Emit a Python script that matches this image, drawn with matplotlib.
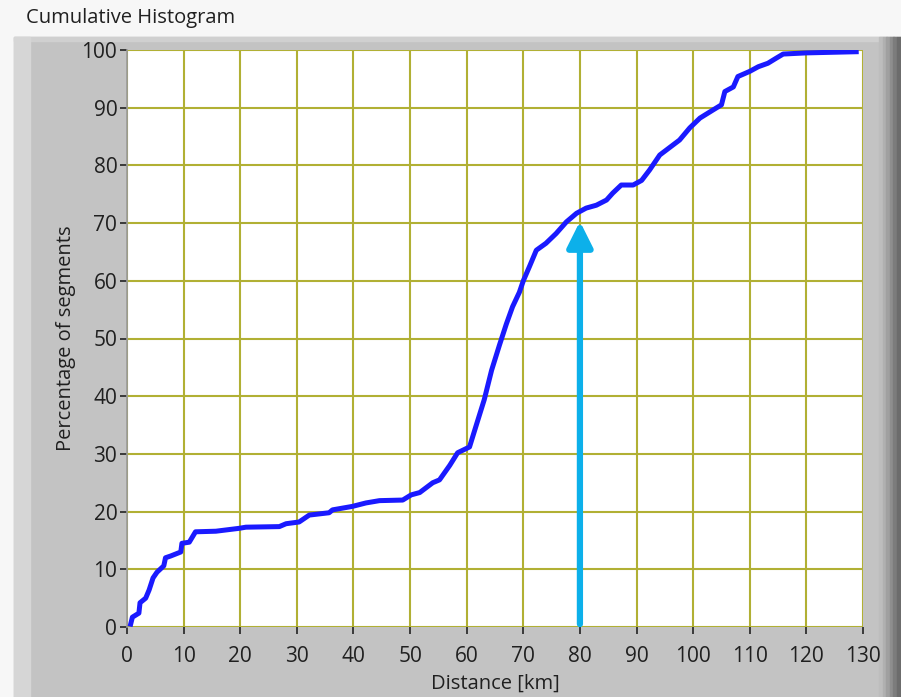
import matplotlib.pyplot as plt
import numpy as np
from matplotlib.patches import Rectangle

plt.rcParams['font.family'] = ['Open Sans', 'DejaVu Sans']

# curve
dist = [0.65, 0.95, 2.1, 2.3, 3.3, 3.9, 4.6, 5.3, 6.5, 6.8, 7.7, 9.5, 9.7, 11, 12.1,
        15.7, 19.8, 21, 26.9, 28.1, 30.4, 32.2, 35.7, 36.3, 39.8, 42.2, 44.6, 48.7,
        50.2, 51.7, 54, 55.2, 57, 58.4, 60.5, 61.7, 63.1, 64.4, 65.8, 67, 68.1, 69.3,
        70.0, 71.1, 72.3, 74, 75.8, 77.6, 79.4, 81.1, 82.9, 84.7, 85.8, 87.3, 89.4,
        90.9, 92.3, 94.1, 97.6, 99.4, 101.2, 103.5, 105, 105.6, 107.1, 107.9, 110,
        111.5, 113.2, 114.7, 115.9, 120, 128.8]
pct = [0.5, 1.7, 2.4, 4.2, 5, 6.4, 8.5, 9.5, 10.6, 12, 12.3, 13, 14.5, 14.7, 16.5,
       16.6, 17.1, 17.3, 17.4, 17.9, 18.2, 19.4, 19.8, 20.3, 20.9, 21.5, 21.9, 22,
       22.9, 23.3, 25, 25.5, 28, 30.2, 31.2, 35, 39.4, 44.5, 48.9, 52.5, 55.5, 58,
       60, 62.5, 65.3, 66.5, 68.2, 70.2, 71.7, 72.6, 73.1, 74, 75.2, 76.6, 76.6,
       77.4, 79.2, 81.8, 84.4, 86.5, 88.2, 89.6, 90.5, 92.8, 93.6, 95.4, 96.3,
       97.1, 97.7, 98.6, 99.3, 99.5, 99.7]
arrow_x = 80
arrow_y = [0.5, 70.3]

W, H = 901, 697
fig = plt.figure(figsize=(W / 100, H / 100), dpi=100, facecolor='#f7f7f7')

# LabVIEW style frame
def px_rect(x0, y0, x1, y1, color):
    fig.patches.append(Rectangle((x0 / W, 1 - y1 / H), (x1 - x0) / W, (y1 - y0) / H,
                                 transform=fig.transFigure, color=color, zorder=-5))

px_rect(14, 37, 901, 697, '#c3c3c3')
px_rect(14, 37, 901, 41, '#d0d0d0')
px_rect(14, 37, 30, 697, '#d6d6d6')
for i, c in enumerate(['#bdbdbd', '#b0b0b0', '#a0a0a0', '#8e8e8e', '#7c7c7c', '#6c6c6c']):
    px_rect(879 + i * 3.5, 37, 883 + i * 3.5, 697, c)

fig.text(26 / W, 1 - 18 / H, 'Cumulative Histogram', fontsize=14.5, color='#202020',
         va='center', ha='left')

ax = fig.add_axes([127 / W, 1 - 627 / H, 736 / W, 577 / H])
ax.set_facecolor('white')
ax.plot(dist, pct, color='#1a1aff', lw=3.6, solid_joinstyle='round', zorder=3)
ax.annotate('', xy=(arrow_x, arrow_y[1]), xytext=(arrow_x, arrow_y[0]),
            arrowprops=dict(arrowstyle='-|>,head_length=0.7,head_width=0.35',
                            color='#0cb0ea', lw=4.5, mutation_scale=22,
                            shrinkA=0, shrinkB=0), zorder=4)

ax.set_xlim(0, 130)
ax.set_ylim(0, 100)
ax.set_xticks(np.arange(0, 131, 10))
ax.set_yticks(np.arange(0, 101, 10))
ax.grid(True, color='#b1b034', lw=1.5)
ax.set_axisbelow(True)
for s in ['top', 'right', 'bottom']:
    ax.spines[s].set_visible(False)
ax.spines['left'].set_color('#9a9a9a')
ax.spines['left'].set_linewidth(1.2)
ax.tick_params(axis='both', direction='out', length=5, width=1.2, color='#222222',
               labelsize=15, labelcolor='#202020', pad=2)
ax.tick_params(axis='x', pad=9)
ax.set_xlabel('Distance [km]', fontsize=14.5, color='#202020', labelpad=4.5)
ax.set_ylabel('Percentage of segments', fontsize=14.5, color='#202020', labelpad=4)

fig.savefig('out.png', dpi=100, facecolor=fig.get_facecolor())
